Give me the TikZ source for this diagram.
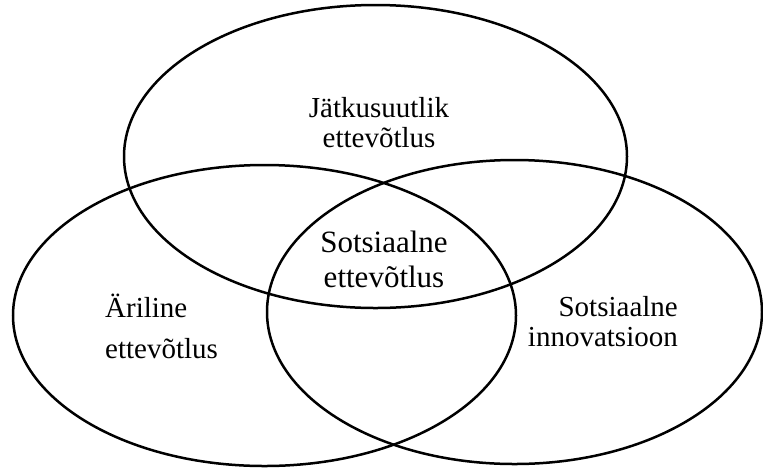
\documentclass[tikz,border=0pt]{standalone}
\usepackage{fontspec}
\setmainfont{Liberation Serif}

\tikzset{
  ring/.style={line width=2.5pt},
  lbl/.style={inner sep=0pt, font=\fontsize{29}{30}\selectfont}
}

\begin{document}
\begin{tikzpicture}[x=1pt,y=-1pt]
    \useasboundingbox (0,0) rectangle (763,467);
    % three sets
    \draw[ring] (375.5,156.5) ellipse [x radius=251.5pt, y radius=151.5pt];
    \draw[ring] (264.5,315.5) ellipse [x radius=251.5pt, y radius=150.5pt];
    \draw[ring] (514.5,312) ellipse [x radius=247.5pt, y radius=152pt];
    % labels
    \node[lbl, align=center] (jatk) at (379,123) {Jätkusuutlik\\ettevõtlus};
    \node[lbl, align=left, anchor=west, font=\fontsize{29}{41}\selectfont] (ari) at (105,326) {Äriline\\ettevõtlus};
    \node[lbl, align=right, anchor=east] (inno) at (678,322) {Sotsiaalne\\innovatsioon};
    \node[lbl, align=center, font=\fontsize{31}{35}\selectfont] (sots) at (384,259) {Sotsiaalne\\ettevõtlus};
\end{tikzpicture}
\end{document}
